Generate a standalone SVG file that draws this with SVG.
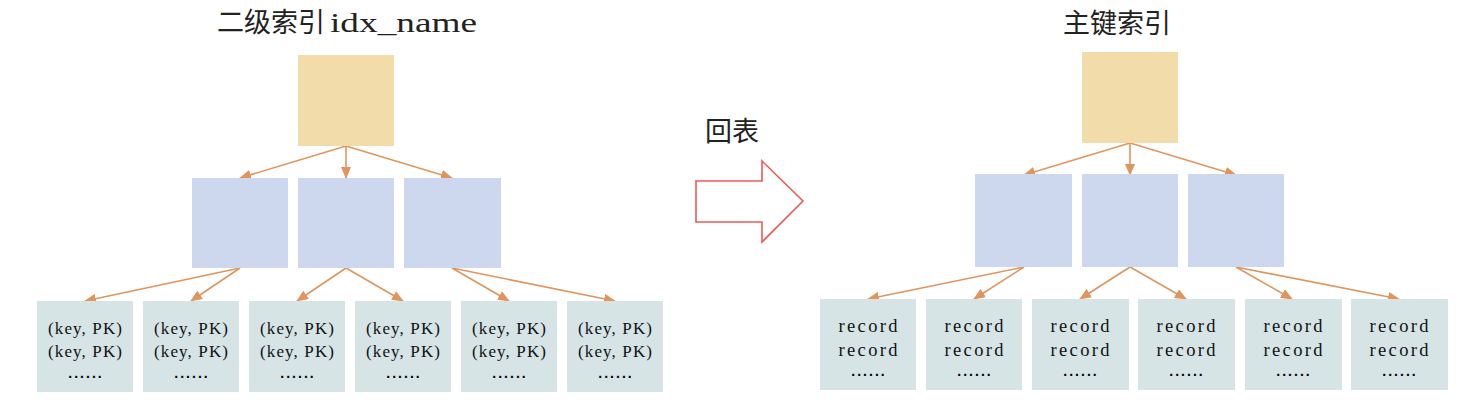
<svg xmlns="http://www.w3.org/2000/svg" width="1466" height="402" viewBox="0 0 1466 402">
<style>
.root{fill:#f2ddaa}
.mid{fill:#cdd8ef}
.leaf{fill:#d6e4e6}
.conn{stroke:#e0955e;stroke-width:1.6;fill:none;marker-end:url(#ah)}
.title{font-family:"Liberation Serif","Noto Sans CJK SC",serif;font-size:27px;fill:#222}
.lt{font-family:"Liberation Serif",serif;fill:#111;text-anchor:middle}
.k{font-size:17px}
.r{font-size:18.5px}
.dots{font-family:"Liberation Sans",sans-serif;font-size:14px;font-weight:bold;fill:#000;text-anchor:middle;letter-spacing:2px}
</style>
<defs>
<marker id="ah" markerUnits="userSpaceOnUse" markerWidth="12" markerHeight="10" refX="11" refY="5" orient="auto">
<path d="M0,0 L12,5 L0,10 Z" fill="#e0955e"/>
</marker>
</defs>
<rect width="1466" height="402" fill="#fff"/>

<text class="title" x="217" y="32">二级索引</text>
<text class="title" x="330" y="32" textLength="147" lengthAdjust="spacingAndGlyphs">idx_name</text>
<text class="title" x="1117" y="33" text-anchor="middle" font-size="28">主键索引</text>
<text class="title" x="705" y="141" font-size="27">回表</text>

<g id="bigarrow">
<polygon points="696,181 762,181 762,161 803,201 762,242 762,222 696,222" fill="#fff" stroke="#ee5a55" stroke-width="1.6"/>
</g>

<g id="connectors">
<line class="conn" x1="346" y1="146" x2="240" y2="178"/>
<line class="conn" x1="346" y1="146" x2="346" y2="178"/>
<line class="conn" x1="346" y1="146" x2="452" y2="178"/>
<line class="conn" x1="240" y1="268" x2="85" y2="301"/>
<line class="conn" x1="240" y1="268" x2="191" y2="301"/>
<line class="conn" x1="346" y1="268" x2="297" y2="301"/>
<line class="conn" x1="346" y1="268" x2="403" y2="301"/>
<line class="conn" x1="452" y1="268" x2="509" y2="301"/>
<line class="conn" x1="452" y1="268" x2="615" y2="301"/>

<line class="conn" x1="1130" y1="143" x2="1024" y2="175"/>
<line class="conn" x1="1130" y1="143" x2="1130" y2="175"/>
<line class="conn" x1="1130" y1="143" x2="1236" y2="175"/>
<line class="conn" x1="1024" y1="267" x2="868" y2="299"/>
<line class="conn" x1="1024" y1="267" x2="974" y2="299"/>
<line class="conn" x1="1130" y1="267" x2="1080" y2="299"/>
<line class="conn" x1="1130" y1="267" x2="1186" y2="299"/>
<line class="conn" x1="1236" y1="267" x2="1292" y2="299"/>
<line class="conn" x1="1236" y1="267" x2="1399" y2="299"/>
</g>

<g id="L-root"><rect class="root" x="298" y="55" width="96" height="91"/></g>
<g id="L-m1"><rect class="mid" x="192" y="178" width="96" height="90"/></g>
<g id="L-m2"><rect class="mid" x="298" y="178" width="96" height="90"/></g>
<g id="L-m3"><rect class="mid" x="404" y="178" width="97" height="90"/></g>

<g id="L-l1"><rect class="leaf" x="37" y="301" width="96" height="91"/><text class="lt k" x="85" y="334" textLength="74">(key, PK)</text><text class="lt k" x="85" y="357" textLength="74">(key, PK)</text><text class="dots" x="86" y="378">......</text></g>
<g id="L-l2"><rect class="leaf" x="143" y="301" width="96" height="91"/><text class="lt k" x="191" y="334" textLength="74">(key, PK)</text><text class="lt k" x="191" y="357" textLength="74">(key, PK)</text><text class="dots" x="192" y="378">......</text></g>
<g id="L-l3"><rect class="leaf" x="249" y="301" width="96" height="91"/><text class="lt k" x="297" y="334" textLength="74">(key, PK)</text><text class="lt k" x="297" y="357" textLength="74">(key, PK)</text><text class="dots" x="298" y="378">......</text></g>
<g id="L-l4"><rect class="leaf" x="355" y="301" width="96" height="91"/><text class="lt k" x="403" y="334" textLength="74">(key, PK)</text><text class="lt k" x="403" y="357" textLength="74">(key, PK)</text><text class="dots" x="404" y="378">......</text></g>
<g id="L-l5"><rect class="leaf" x="461" y="301" width="96" height="91"/><text class="lt k" x="509" y="334" textLength="74">(key, PK)</text><text class="lt k" x="509" y="357" textLength="74">(key, PK)</text><text class="dots" x="510" y="378">......</text></g>
<g id="L-l6"><rect class="leaf" x="567" y="301" width="96" height="91"/><text class="lt k" x="615" y="334" textLength="74">(key, PK)</text><text class="lt k" x="615" y="357" textLength="74">(key, PK)</text><text class="dots" x="616" y="378">......</text></g>

<g id="R-root"><rect class="root" x="1082" y="52" width="96" height="91"/></g>
<g id="R-m1"><rect class="mid" x="975" y="174" width="97" height="93"/></g>
<g id="R-m2"><rect class="mid" x="1082" y="174" width="96" height="93"/></g>
<g id="R-m3"><rect class="mid" x="1188" y="174" width="96" height="93"/></g>

<g id="R-l1"><rect class="leaf" x="820" y="299" width="96" height="91"/><text class="lt r" x="868" y="332" textLength="59">record</text><text class="lt r" x="868" y="356" textLength="59">record</text><text class="dots" x="869" y="376">......</text></g>
<g id="R-l2"><rect class="leaf" x="926" y="299" width="96" height="91"/><text class="lt r" x="974" y="332" textLength="59">record</text><text class="lt r" x="974" y="356" textLength="59">record</text><text class="dots" x="975" y="376">......</text></g>
<g id="R-l3"><rect class="leaf" x="1032" y="299" width="97" height="91"/><text class="lt r" x="1080" y="332" textLength="59">record</text><text class="lt r" x="1080" y="356" textLength="59">record</text><text class="dots" x="1081" y="376">......</text></g>
<g id="R-l4"><rect class="leaf" x="1138" y="299" width="97" height="91"/><text class="lt r" x="1186" y="332" textLength="59">record</text><text class="lt r" x="1186" y="356" textLength="59">record</text><text class="dots" x="1187" y="376">......</text></g>
<g id="R-l5"><rect class="leaf" x="1245" y="299" width="97" height="91"/><text class="lt r" x="1293" y="332" textLength="59">record</text><text class="lt r" x="1293" y="356" textLength="59">record</text><text class="dots" x="1294" y="376">......</text></g>
<g id="R-l6"><rect class="leaf" x="1351" y="299" width="97" height="91"/><text class="lt r" x="1399" y="332" textLength="59">record</text><text class="lt r" x="1399" y="356" textLength="59">record</text><text class="dots" x="1400" y="376">......</text></g>
</svg>
